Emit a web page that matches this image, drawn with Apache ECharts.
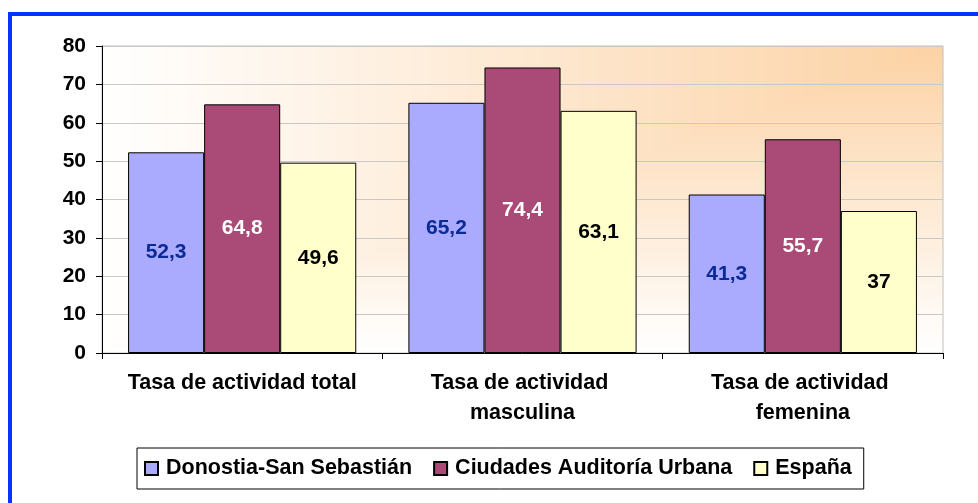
<!DOCTYPE html>
<html>
<head>
<meta charset="utf-8">
<script src="https://cdn.jsdelivr.net/npm/echarts@6/dist/echarts.min.js"></script>
<style>
	html, body { margin: 0; padding: 0; background: #fff; }
	#chart { width: 978px; height: 503px; }
</style>
</head>
<body>
<div id="chart"></div>
<script>
const categories = ["Tasa de actividad total", "Tasa de actividad masculina", "Tasa de actividad femenina"];
const donostia = [52.3, 65.2, 41.3];
const ciudades = [64.8, 74.4, 55.7];
const espana = [49.6, 63.1, 37];
const seriesNames = ["Donostia-San Sebastián", "Ciudades Auditoría Urbana", "España"];

const font = "'Liberation Sans', Arial, sans-serif";

// plot area, background filled "from corner" like the old excel chart
const gx = 102, gy = 46, gw = 841, gh = 307;
const bg = document.createElement("canvas");
bg.width = 978;
bg.height = 503;
const ctx = bg.getContext("2d");
const img = ctx.createImageData(gw, gh);
const peach = [252, 210, 164];
for (let y = 0; y < gh; y++) {
	for (let x = 0; x < gw; x++) {
		const t = Math.max(1 - x / (gw - 1), y / (gh - 1));
		const i = (y * gw + x) * 4;
		img.data[i] = peach[0] + (255 - peach[0]) * t;
		img.data[i + 1] = peach[1] + (255 - peach[1]) * t;
		img.data[i + 2] = peach[2] + (255 - peach[2]) * t;
		img.data[i + 3] = 255;
	}
}
ctx.putImageData(img, gx, gy);

const label = (color) => ({
	show: true,
	position: "inside",
	color: color,
	fontFamily: font,
	fontWeight: "bold",
	fontSize: 21,
	formatter: (p) => String(p.value).replace(".", ",")
});

const makeBar = (name, data, color, labelColor) => ({
	name: name,
	type: "bar",
	data: data,
	barGap: "0%",
	barCategoryGap: "18.6%",
	itemStyle: { color: color, borderColor: "#000", borderWidth: 1 },
	label: label(labelColor)
});

const chart = echarts.init(document.getElementById("chart"));
const option = {
	animation: false,
	backgroundColor: "#fff",
	graphic: [
		{
			type: "rect",
			shape: { x: 10, y: 14, width: 1100, height: 700 },
			style: { fill: "none", stroke: "#0433ff", lineWidth: 4 }
		}
	],
	grid: {
		show: true,
		left: gx,
		top: gy,
		right: 978 - gx - gw,
		bottom: 503 - gy - gh,
		backgroundColor: { image: bg, repeat: "no-repeat" },
		borderColor: "#c0c0c0",
		borderWidth: 1
	},
	legend: {
		data: seriesNames,
		left: 137,
		top: 448,
		orient: "horizontal",
		icon: "rect",
		itemWidth: 13,
		itemHeight: 13,
		itemGap: 21,
		padding: [7, 12, 7, 7],
		backgroundColor: "#fff",
		borderColor: "#000",
		borderWidth: 1,
		textStyle: {
			color: "#000",
			fontFamily: font,
			fontWeight: "bold",
			fontSize: 21.5,
			lineHeight: 27,
			padding: [0, 0, 0, 3]
		}
	},
	xAxis: {
		type: "category",
		data: categories,
		axisLine: { lineStyle: { color: "#000", width: 1 } },
		axisTick: { show: true, length: 6, lineStyle: { color: "#000" } },
		axisLabel: {
			color: "#000",
			fontFamily: font,
			fontWeight: "bold",
			fontSize: 21.5,
			lineHeight: 30,
			margin: 15,
			width: 240,
			overflow: "break",
			interval: 0
		}
	},
	yAxis: {
		type: "value",
		min: 0,
		max: 80,
		interval: 10,
		axisLine: { show: true, lineStyle: { color: "#000", width: 1 } },
		axisTick: { show: true, length: 6, lineStyle: { color: "#000" } },
		axisLabel: {
			color: "#000",
			fontFamily: font,
			fontWeight: "bold",
			fontSize: 21,
			margin: 16
		},
		splitLine: { lineStyle: { color: "#c8c8c8", width: 1 } }
	},
	series: [
		makeBar(seriesNames[0], donostia, "#aaaaff", "#0a2a96"),
		makeBar(seriesNames[1], ciudades, "#aa4a76", "#ffffff"),
		makeBar(seriesNames[2], espana, "#ffffcc", "#000000")
	]
};
chart.setOption(option);
</script>
</body>
</html>
